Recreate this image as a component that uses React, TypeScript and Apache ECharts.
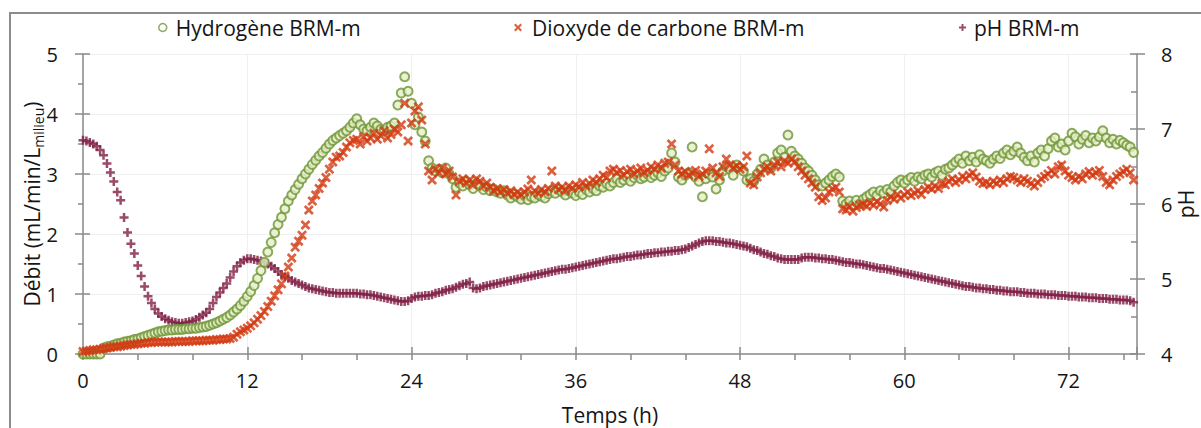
import React, { useEffect, useRef } from "react";
import * as echarts from "echarts";

// Sampling step of the measurements (hours)
const STEP_H = 0.25;

// Hydrogène BRM-m (mL/min/L milieu), one row per hour, 4 samples per hour
const hydrogene = [
  0, 0, 0, 0,
  0, 0, 0.1, 0.12,
  0.13, 0.15, 0.17, 0.18,
  0.2, 0.21, 0.22, 0.24,
  0.25, 0.27, 0.29, 0.31,
  0.33, 0.35, 0.37, 0.38,
  0.39, 0.4, 0.4, 0.41,
  0.41, 0.41, 0.42, 0.42,
  0.43, 0.43, 0.44, 0.45,
  0.46, 0.48, 0.5, 0.52,
  0.55, 0.58, 0.61, 0.65,
  0.7, 0.75, 0.81, 0.88,
  0.96, 1.04, 1.14, 1.26,
  1.39, 1.53, 1.7, 1.86,
  2.02, 2.16, 2.28, 2.42,
  2.55, 2.65, 2.74, 2.83,
  2.92, 3.0, 3.08, 3.16,
  3.23, 3.3, 3.36, 3.43,
  3.5, 3.56, 3.6, 3.64,
  3.68, 3.72, 3.78, 3.85,
  3.92, 3.82, 3.75, 3.72,
  3.78, 3.85, 3.8, 3.74,
  3.72, 3.78, 3.8, 3.85,
  4.15, 4.35, 4.62, 4.38,
  4.18, 3.82, 3.95, 3.7,
  3.55, 3.22, 3.1, 3.05,
  3.08, 3.02, 3.1, 3.0,
  2.92, 2.78, 2.85, 2.8,
  2.88, 2.82, 2.76, 2.84,
  2.8, 2.74, 2.78, 2.72,
  2.75, 2.7, 2.68, 2.72,
  2.65, 2.6, 2.66, 2.62,
  2.58, 2.64, 2.57, 2.62,
  2.6, 2.66, 2.63, 2.6,
  2.67, 2.72, 2.68, 2.74,
  2.7, 2.65, 2.72, 2.68,
  2.64, 2.7, 2.66, 2.74,
  2.7, 2.76, 2.72, 2.8,
  2.78, 2.84, 2.8, 2.86,
  2.92, 2.86, 2.9, 2.95,
  2.88, 2.94, 2.98, 2.92,
  2.95, 3.0, 2.94, 2.98,
  3.02, 2.96, 3.05, 3.1,
  3.35, 3.2, 2.95, 2.9,
  2.98, 3.02, 3.45, 2.95,
  2.88, 2.62, 2.92, 3.0,
  2.95, 2.75, 2.9, 3.05,
  3.12, 3.08, 2.98, 3.15,
  3.1, 3.05, 2.9, 2.92,
  2.88, 3.0, 3.08, 3.25,
  3.15, 3.1, 3.2, 3.35,
  3.4, 3.28, 3.65, 3.38,
  3.3, 3.25, 3.18, 3.1,
  3.05, 2.98, 2.9, 2.82,
  2.8, 2.85, 2.9, 2.96,
  3.0, 2.95, 2.55, 2.5,
  2.55, 2.48, 2.56, 2.5,
  2.58, 2.62, 2.66, 2.7,
  2.64, 2.72, 2.68, 2.74,
  2.7, 2.8, 2.86, 2.9,
  2.85, 2.9, 2.94, 2.88,
  2.95, 2.92, 2.98, 3.0,
  2.95, 3.02, 3.05, 2.98,
  3.08, 3.1, 3.15, 3.2,
  3.25, 3.18, 3.3, 3.22,
  3.28, 3.2, 3.32, 3.25,
  3.22, 3.18, 3.25, 3.3,
  3.26, 3.35, 3.4, 3.32,
  3.38, 3.45, 3.35, 3.28,
  3.22, 3.3, 3.2, 3.35,
  3.4, 3.3, 3.42, 3.55,
  3.6, 3.45, 3.5, 3.4,
  3.55, 3.68, 3.62, 3.5,
  3.58, 3.64, 3.52, 3.6,
  3.55, 3.62, 3.72, 3.6,
  3.52, 3.58, 3.5, 3.56,
  3.52, 3.48, 3.45, 3.36,
];

// Dioxyde de carbone BRM-m (mL/min/L milieu)
const dioxyde = [
  0.04, 0.05, 0.06, 0.07,
  0.07, 0.08, 0.09, 0.1,
  0.11, 0.12, 0.12, 0.13,
  0.14, 0.15, 0.16, 0.16,
  0.17, 0.18, 0.18, 0.19,
  0.19, 0.2, 0.2, 0.2,
  0.2, 0.2, 0.2, 0.21,
  0.21, 0.21, 0.21, 0.21,
  0.22, 0.22, 0.22, 0.22,
  0.23, 0.23, 0.23, 0.24,
  0.24, 0.25, 0.25, 0.26,
  0.28, 0.33, 0.37, 0.4,
  0.43, 0.47, 0.52, 0.58,
  0.64, 0.71, 0.79, 0.88,
  0.97, 1.07, 1.17, 1.3,
  1.45, 1.6, 1.78, 1.88,
  1.98, 2.15, 2.4, 2.55,
  2.65, 2.76, 2.85, 2.94,
  3.08, 3.2, 3.28, 3.3,
  3.36, 3.45, 3.52, 3.56,
  3.58, 3.5, 3.62, 3.55,
  3.6, 3.68, 3.58, 3.64,
  3.72, 3.6, 3.66, 3.75,
  3.7, 3.82, 4.18, 3.55,
  3.85, 4.05, 4.12, 3.9,
  3.5, 3.05, 2.9, 3.08,
  3.02, 3.1, 3.0, 3.05,
  2.95, 2.65, 2.88, 2.92,
  2.85, 2.9, 2.82, 2.92,
  2.88, 2.8, 2.85, 2.78,
  2.72, 2.76, 2.7, 2.74,
  2.68, 2.72, 2.66, 2.7,
  2.65, 2.7, 2.75, 2.9,
  2.72, 2.68, 2.74, 2.7,
  2.76, 3.05, 2.8, 2.74,
  2.78, 2.72, 2.8, 2.76,
  2.82, 2.78, 2.86, 2.8,
  2.84, 2.9, 2.86, 2.92,
  2.98, 2.94, 3.05, 3.08,
  3.02, 3.06, 2.98, 3.04,
  3.08, 3.0, 3.05, 3.1,
  3.02, 3.06, 3.12, 3.08,
  3.15, 3.1, 3.18, 3.2,
  3.5, 3.15, 3.05, 3.0,
  3.04, 2.98, 3.02, 3.06,
  2.96, 3.0, 3.05, 3.42,
  3.1, 3.02, 2.96, 3.12,
  3.25, 3.15, 3.1, 3.14,
  3.08, 3.12, 3.3, 2.85,
  2.82, 2.95, 3.02, 3.08,
  3.12, 3.05, 3.15, 3.2,
  3.12, 3.22, 3.18, 3.25,
  3.2, 3.12, 3.05, 2.98,
  2.92, 2.85, 2.78, 2.62,
  2.56, 2.6, 2.7, 2.75,
  2.78, 2.7, 2.42, 2.4,
  2.46, 2.38, 2.44, 2.48,
  2.5, 2.46, 2.52, 2.48,
  2.54, 2.5, 2.45, 2.56,
  2.62, 2.58, 2.66, 2.6,
  2.65, 2.7, 2.64, 2.68,
  2.72, 2.66, 2.74, 2.78,
  2.75, 2.8, 2.76, 2.84,
  2.82, 2.88, 2.92, 2.86,
  2.9, 2.96, 2.92, 2.98,
  3.02, 2.95, 2.88, 2.84,
  2.86, 2.82, 2.88, 2.84,
  2.9, 2.86, 2.92, 2.96,
  2.94, 2.9, 2.86, 2.92,
  2.88, 2.84, 2.8, 2.86,
  2.92, 2.96, 3.0, 3.06,
  3.0, 3.12, 3.15, 3.05,
  2.98, 2.94, 2.9, 2.96,
  2.92, 3.0, 3.04, 2.98,
  3.02, 3.06, 2.96, 2.86,
  2.82, 2.9, 2.96, 3.0,
  3.04, 3.08, 3.02, 2.9,
];

// pH BRM-m (secondary axis)
const ph = [
  6.85, 6.84, 6.82, 6.8,
  6.77, 6.72, 6.65, 6.54,
  6.42, 6.3, 6.16, 6.05,
  5.82, 5.62, 5.47, 5.34,
  5.18, 5.04, 4.9, 4.77,
  4.68, 4.6, 4.54, 4.5,
  4.47, 4.45, 4.43, 4.42,
  4.41, 4.41, 4.42, 4.43,
  4.44, 4.46, 4.49, 4.52,
  4.55, 4.6, 4.68, 4.76,
  4.82, 4.88, 4.94, 5.02,
  5.1, 5.17, 5.22, 5.25,
  5.27, 5.27, 5.26, 5.25,
  5.24, 5.22, 5.2, 5.17,
  5.14, 5.1, 5.06, 5.03,
  5.01, 4.98, 4.96, 4.94,
  4.92, 4.9, 4.88, 4.87,
  4.86, 4.85, 4.84, 4.83,
  4.82, 4.82, 4.81, 4.81,
  4.81, 4.81, 4.81, 4.81,
  4.81, 4.8, 4.8, 4.79,
  4.79, 4.78, 4.77, 4.76,
  4.75, 4.74, 4.73, 4.72,
  4.71, 4.7, 4.7, 4.71,
  4.74, 4.76, 4.77, 4.77,
  4.78, 4.78, 4.79, 4.81,
  4.82, 4.83, 4.85, 4.86,
  4.87, 4.89, 4.91, 4.93,
  4.94, 4.96, 4.88, 4.87,
  4.88, 4.9, 4.91, 4.92,
  4.93, 4.94, 4.95, 4.96,
  4.97, 4.98, 4.99, 5.0,
  5.01, 5.02, 5.03, 5.04,
  5.05, 5.06, 5.07, 5.08,
  5.09, 5.1, 5.11, 5.12,
  5.13, 5.13, 5.14, 5.15,
  5.16, 5.17, 5.18, 5.19,
  5.2, 5.21, 5.22, 5.23,
  5.24, 5.25, 5.26, 5.27,
  5.27, 5.28, 5.29, 5.3,
  5.3, 5.31, 5.32, 5.32,
  5.33, 5.34, 5.34, 5.35,
  5.35, 5.36, 5.36, 5.37,
  5.37, 5.38, 5.38, 5.39,
  5.4, 5.42, 5.44, 5.46,
  5.48, 5.5, 5.51, 5.51,
  5.51, 5.5, 5.5, 5.49,
  5.48, 5.48, 5.47, 5.46,
  5.45, 5.44, 5.43, 5.41,
  5.39, 5.38, 5.36, 5.34,
  5.33, 5.31, 5.3, 5.28,
  5.27, 5.26, 5.26, 5.26,
  5.26, 5.26, 5.28, 5.29,
  5.29, 5.29, 5.28, 5.28,
  5.27, 5.27, 5.26, 5.26,
  5.25, 5.24, 5.23, 5.22,
  5.22, 5.21, 5.2, 5.2,
  5.19, 5.18, 5.17, 5.16,
  5.15, 5.14, 5.14, 5.13,
  5.12, 5.11, 5.1, 5.09,
  5.08, 5.07, 5.06, 5.05,
  5.04, 5.03, 5.02, 5.01,
  5.0, 4.99, 4.98, 4.97,
  4.96, 4.95, 4.94, 4.93,
  4.92, 4.91, 4.9, 4.9,
  4.89, 4.88, 4.88, 4.87,
  4.87, 4.86, 4.86, 4.85,
  4.85, 4.84, 4.84, 4.83,
  4.83, 4.83, 4.82, 4.82,
  4.81, 4.81, 4.81, 4.8,
  4.8, 4.8, 4.79, 4.79,
  4.79, 4.78, 4.78, 4.78,
  4.77, 4.77, 4.77, 4.76,
  4.76, 4.76, 4.75, 4.75,
  4.75, 4.74, 4.74, 4.74,
  4.73, 4.73, 4.73, 4.72,
  4.72, 4.72, 4.71, 4.69,
];

// Axis ranges / ticks
const X_MIN = 0;
const X_MAX = 77;
const X_MAJOR = 12;
const X_MINOR = 4;
const Y_MIN = 0;
const Y_MAX = 5;
const Y_MAJOR = 1;
const PH_MIN = 4;
const PH_MAX = 8;
const PH_MAJOR = 1;

const NAME_H2 = "Hydrogène BRM-m";
const NAME_CO2 = "Dioxyde de carbone BRM-m";
const NAME_PH = "pH BRM-m";

const FONT = "'Open Sans', 'DejaVu Sans', sans-serif";
const TEXT = "#151515";
const AXIS = "#8a8a8a";
const GRID = "#efefef";
const GREEN = "#6e9636";
const GREEN_FILL = "#e6edc8";
const RED = "#d23a10";
const PH_COLOR = "#7f1f45";

const CROSS =
  "path://M0,1.9 L1.9,0 L5,3.1 L8.1,0 L10,1.9 L6.9,5 L10,8.1 L8.1,10 L5,6.9 L1.9,10 L0,8.1 L3.1,5 Z";
const PLUS =
  "path://M3.6,0 H6.4 V3.6 H10 V6.4 H6.4 V10 H3.6 V6.4 H0 V3.6 H3.6 Z";

const toPoints = (arr: number[]) => arr.map((v, i) => [i * STEP_H, v]);

export default function App() {
  const ref = useRef<HTMLDivElement | null>(null);

  useEffect(() => {
    if (!ref.current) return;
    const chart = echarts.init(ref.current, undefined, { renderer: "svg" });

    const axisLineStyle = { color: AXIS, width: 1.5 };
    const labelStyle = { fontSize: 20, color: TEXT, fontFamily: FONT };

    const option: any = {
      animation: false,
      backgroundColor: "#ffffff",
      textStyle: { fontFamily: FONT },
      grid: {
        left: 83,
        right: 64,
        top: 54,
        bottom: 74,
        outerBoundsMode: "none",
      },
      graphic: [
        {
          type: "rect",
          silent: true,
          z: -10,
          shape: { x: 10, y: 13, width: 1400, height: 600 },
          style: { fill: "none", stroke: "#8c8c8c", lineWidth: 2 },
        },
      ],
      legend: [
        {
          data: [{ name: NAME_H2, icon: "circle" }],
          left: 153,
          top: 12,
          itemWidth: 8,
          itemHeight: 8,
          selectedMode: false,
          itemStyle: { color: "#ffffff", borderColor: GREEN, borderWidth: 1.5 },
          textStyle: { fontSize: 21, color: TEXT, fontFamily: FONT, padding: [0, 0, 0, 4] },
        },
        {
          data: [{ name: NAME_CO2, icon: CROSS }],
          left: 509,
          top: 12,
          itemWidth: 8,
          itemHeight: 8,
          selectedMode: false,
          itemStyle: { color: RED, borderWidth: 0 },
          textStyle: { fontSize: 21, color: TEXT, fontFamily: FONT, padding: [0, 0, 0, 5] },
        },
        {
          data: [{ name: NAME_PH, icon: PLUS }],
          left: 954,
          top: 12,
          itemWidth: 7,
          itemHeight: 7,
          selectedMode: false,
          itemStyle: { color: PH_COLOR, borderWidth: 0 },
          textStyle: { fontSize: 21, color: TEXT, fontFamily: FONT, padding: [0, 0, 0, 3] },
        },
      ],
      xAxis: [
        {
          type: "value",
          position: "bottom",
          min: X_MIN,
          max: X_MAX,
          interval: X_MINOR,
          name: "Temps (h)",
          nameLocation: "middle",
          nameGap: 50,
          nameMoveOverlap: false,
          nameTextStyle: { fontSize: 21, color: TEXT, fontFamily: FONT },
          axisLine: { show: true, onZero: false, lineStyle: axisLineStyle },
          axisTick: { show: true, length: 6, lineStyle: axisLineStyle },
          axisLabel: {
            ...labelStyle,
            margin: 16,
            formatter: (v: number) => (v % X_MAJOR === 0 ? String(v) : ""),
          },
          splitLine: { show: false },
        },
        {
          type: "value",
          position: "bottom",
          min: X_MIN,
          max: X_MAX,
          interval: X_MAJOR,
          axisLine: { show: false, onZero: false },
          axisTick: { show: true, inside: true, length: 7, lineStyle: axisLineStyle },
          axisLabel: { show: false },
          splitLine: { show: true, lineStyle: { color: GRID, width: 1 } },
        },
      ],
      yAxis: [
        {
          type: "value",
          position: "left",
          min: Y_MIN,
          max: Y_MAX,
          interval: Y_MAJOR,
          name: "{a|Débit (mL/min/L}{s|milieu}{a|)}",
          nameLocation: "middle",
          nameGap: 38,
          nameMoveOverlap: false,
          nameTextStyle: {
            rich: {
              a: { fontSize: 21, color: TEXT, fontFamily: FONT, lineHeight: 26 },
              s: {
                fontSize: 14,
                color: TEXT,
                fontFamily: FONT,
                lineHeight: 26,
                verticalAlign: "bottom",
              },
            },
          },
          axisLine: { show: true, onZero: false, lineStyle: axisLineStyle },
          axisTick: { show: true, length: 8, lineStyle: axisLineStyle },
          minorTick: { show: true, splitNumber: 2, length: 5, lineStyle: axisLineStyle },
          axisLabel: { ...labelStyle, margin: 25 },
          splitLine: { show: false },
        },
        {
          type: "value",
          position: "left",
          min: Y_MIN,
          max: Y_MAX,
          interval: Y_MAJOR,
          axisLine: { show: false, onZero: false },
          axisTick: { show: true, inside: true, length: 7, lineStyle: axisLineStyle },
          axisLabel: { show: false },
          splitLine: { show: true, lineStyle: { color: GRID, width: 1 } },
        },
        {
          type: "value",
          position: "right",
          min: PH_MIN,
          max: PH_MAX,
          interval: PH_MAJOR,
          name: "pH",
          nameLocation: "middle",
          nameGap: 38,
          nameMoveOverlap: false,
          nameTextStyle: { fontSize: 21, color: TEXT, fontFamily: FONT, lineHeight: 22 },
          axisLine: { show: true, onZero: false, lineStyle: axisLineStyle },
          axisTick: { show: true, length: 8, lineStyle: axisLineStyle },
          axisLabel: { ...labelStyle, margin: 24 },
          splitLine: { show: false },
        },
        {
          type: "value",
          position: "right",
          min: PH_MIN,
          max: PH_MAX,
          interval: PH_MAJOR,
          axisLine: { show: false, onZero: false },
          axisTick: { show: true, inside: true, length: 7, lineStyle: axisLineStyle },
          minorTick: { show: true, splitNumber: 2, length: 6, lineStyle: axisLineStyle },
          axisLabel: { show: false },
          splitLine: { show: false },
        },
      ],
      series: [
        {
          name: NAME_PH,
          type: "scatter",
          xAxisIndex: 0,
          yAxisIndex: 2,
          data: toPoints(ph),
          symbol: PLUS,
          symbolSize: 9,
          itemStyle: { color: PH_COLOR },
          silent: true,
          z: 2,
        },
        {
          name: NAME_H2,
          type: "scatter",
          xAxisIndex: 0,
          yAxisIndex: 0,
          data: toPoints(hydrogene),
          symbol: "circle",
          symbolSize: 9,
          itemStyle: { color: GREEN_FILL, borderColor: GREEN, borderWidth: 2 },
          silent: true,
          z: 3,
        },
        {
          name: NAME_CO2,
          type: "scatter",
          xAxisIndex: 0,
          yAxisIndex: 0,
          data: toPoints(dioxyde),
          symbol: CROSS,
          symbolSize: 10,
          itemStyle: { color: RED },
          silent: true,
          z: 4,
        },
      ],
    };

    chart.setOption(option);
    return () => chart.dispose();
  }, []);

  return (
    <div
      ref={ref}
      style={{
        position: "fixed",
        left: 0,
        top: 0,
        width: 1201,
        height: 428,
        background: "#fff",
      }}
    />
  );
}
